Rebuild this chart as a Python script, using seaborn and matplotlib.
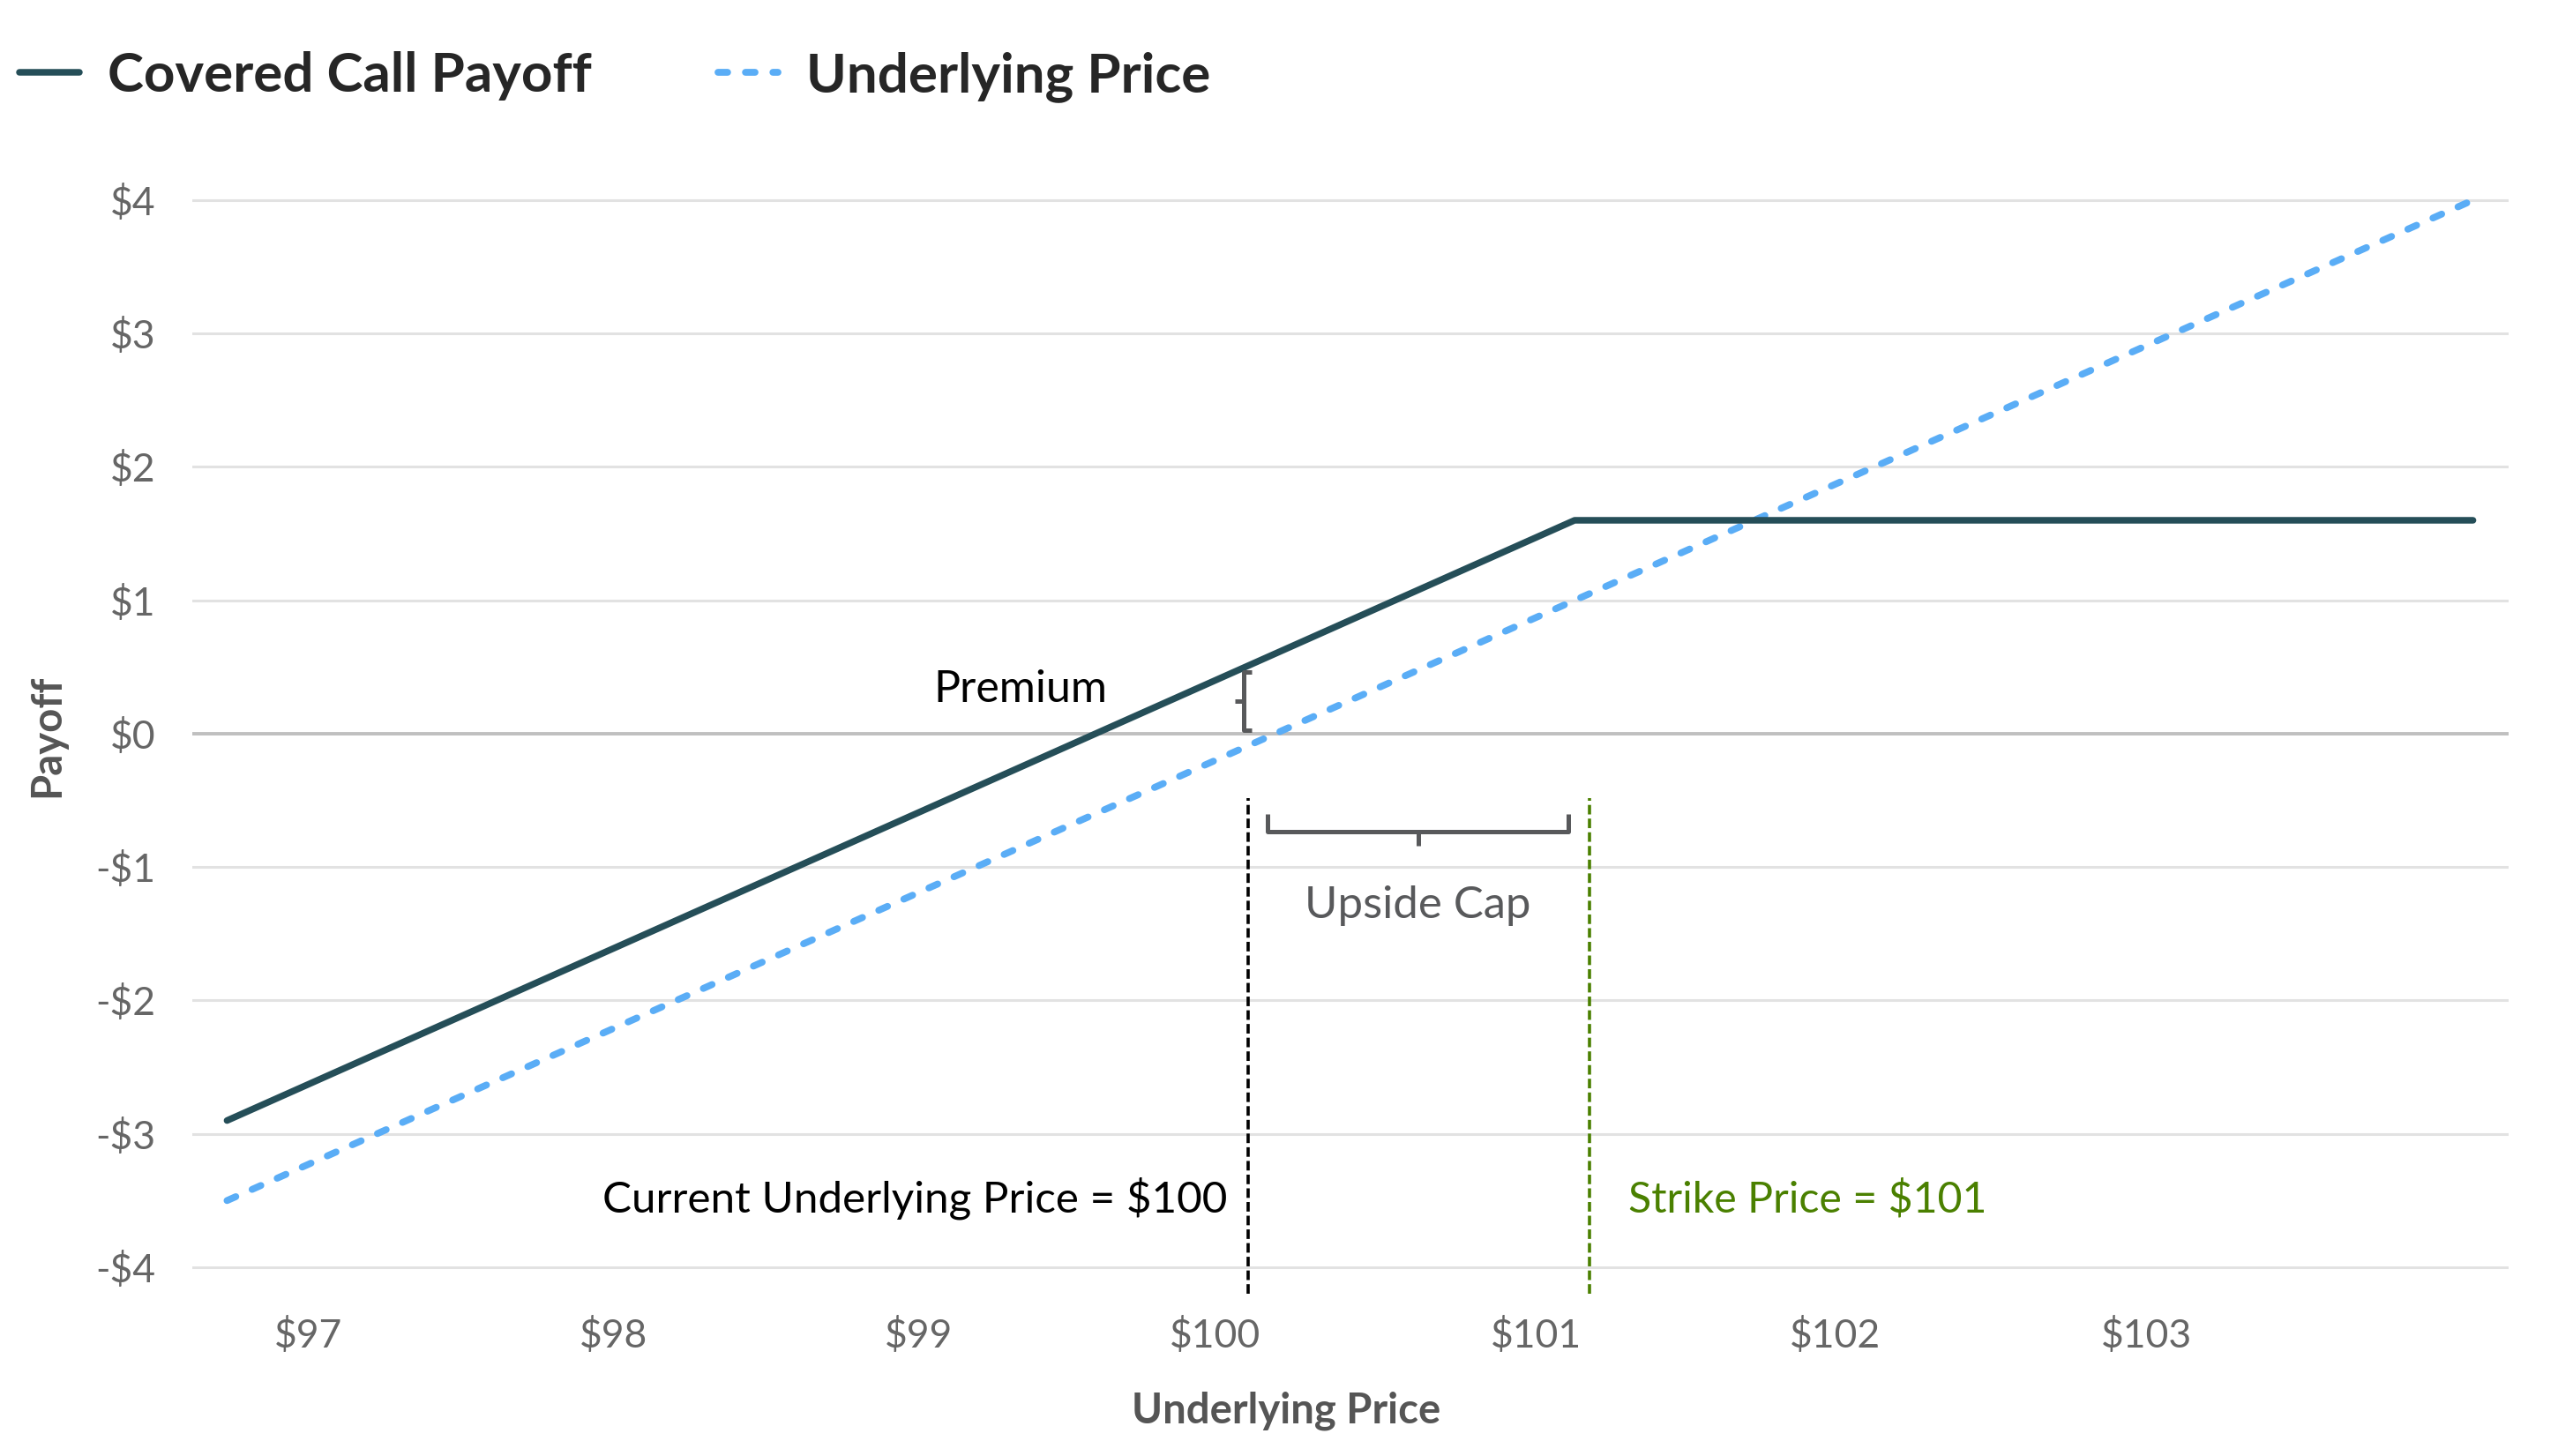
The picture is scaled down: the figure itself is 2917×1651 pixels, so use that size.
import matplotlib
matplotlib.use("Agg")
import matplotlib.pyplot as plt
import seaborn as sns
import pandas as pd

# ---------------- data ----------------
series_names = ["Covered Call Payoff", "Underlying Price"]
payoff_price = [96.5, 101.0, 104.0]
payoff_value = [-2.9, 1.6, 1.6]
underlying_price = [96.5, 104.0]
underlying_value = [-3.5, 4.0]

x_tick_pos = [96.77, 97.79, 98.81, 99.80, 100.87, 101.87, 102.91]
x_tick_labels = ["$97", "$98", "$99", "$100", "$101", "$102", "$103"]
y_ticks = [-4, -3, -2, -1, 0, 1, 2, 3, 4]
y_tick_labels = ["-$4", "-$3", "-$2", "-$1", "$0", "$1", "$2", "$3", "$4"]

current_price_x = 99.91
strike_price_x = 101.05
current_label = "Current Underlying Price = $100"
strike_label = "Strike Price = $101"
premium_label = "Premium"
cap_label = "Upside Cap"

# ---------------- style ----------------
sns.set_theme(style="white")
plt.rcParams["font.family"] = ["Lato", "DejaVu Sans"]

W, H, DPI = 2917, 1651, 200
fig = plt.figure(figsize=(W / DPI, H / DPI), dpi=DPI)
ax_left, ax_right = 218, 2844
ax_top_px, ax_bot_px = 181.6, 1474.8
ax = fig.add_axes([ax_left / W, 1 - ax_bot_px / H,
                   (ax_right - ax_left) / W, (ax_bot_px - ax_top_px) / H])

CC_COLOR = "#254E58"
UL_COLOR = "#5AADF6"
GREEN = "#4A8000"
BRACKET = "#58595B"
TICK_GREY = "#666666"
TITLE_GREY = "#555555"

df_cc = pd.DataFrame({"price": payoff_price, "payoff": payoff_value})
df_ul = pd.DataFrame({"price": underlying_price, "payoff": underlying_value})

sns.lineplot(data=df_ul, x="price", y="payoff", ax=ax, color=UL_COLOR,
             linewidth=2.8, linestyle=(0, (1.4, 2.6)), dash_capstyle="round",
             label=series_names[1], zorder=3)
sns.lineplot(data=df_cc, x="price", y="payoff", ax=ax, color=CC_COLOR,
             linewidth=2.7, solid_capstyle="round", label=series_names[0], zorder=4)

ax.set_xlim(96.384, 104.119)
ax.set_ylim(-4.25, 4.3)

ax.set_yticks(y_ticks, y_tick_labels)
ax.set_xticks(x_tick_pos, x_tick_labels)
ax.yaxis.grid(True, color="#E2E2E2", linewidth=1.1)
ax.xaxis.grid(False)
ax.axhline(0, color="#C0C0C0", linewidth=1.4, zorder=2)
for s in ax.spines.values():
    s.set_visible(False)
ax.tick_params(axis="both", length=0, labelsize=16, labelcolor=TICK_GREY)
ax.tick_params(axis="x", pad=7)
ax.tick_params(axis="y", pad=15)
ax.set_xlabel("")
ax.set_ylabel("")
if ax.get_legend() is not None:
    ax.get_legend().remove()

# vertical reference lines
ax.vlines(current_price_x, -4.2, -0.48, color="black", linewidth=1.3,
          linestyles=(0, (3, 1.3)), zorder=3)
ax.vlines(strike_price_x, -4.2, -0.48, color=GREEN, linewidth=1.3,
          linestyles=(0, (3, 1.3)), zorder=3)

ax.text(current_price_x - 0.07, -3.59, current_label, ha="right", va="baseline",
        fontsize=17.8, color="black")
ax.text(strike_price_x + 0.13, -3.59, strike_label, ha="left", va="baseline",
        fontsize=17.4, color=GREEN)

# premium bracket
px = 99.895
ax.plot([px + 0.027, px, px, px + 0.027], [0.463, 0.463, 0.026, 0.026],
        color=BRACKET, linewidth=1.8, solid_capstyle="butt", zorder=5)
ax.plot([px, px - 0.03], [0.245, 0.245], color=BRACKET, linewidth=1.8,
        solid_capstyle="butt", zorder=5)
ax.text(99.439, 0.238, premium_label, ha="right", va="baseline",
        fontsize=18, color="black")

# upside cap bracket
ax.plot([99.975, 99.975, 100.979, 100.979], [-0.6, -0.734, -0.734, -0.6],
        color=BRACKET, linewidth=1.8, solid_capstyle="butt", zorder=5)
ax.plot([100.477, 100.477], [-0.734, -0.84], color=BRACKET, linewidth=1.8,
        solid_capstyle="butt", zorder=5)
ax.text(100.477, -1.382, cap_label, ha="center", va="baseline",
        fontsize=18.3, color=BRACKET)

# axis titles
fig.text(0.5, 1 - 1613 / H, "Underlying Price", ha="center", va="baseline",
         fontsize=17, fontweight="bold", color=TITLE_GREY)
fig.text(53 / W, 1 - 834 / H, "Payoff", ha="center", va="center", rotation=90,
         fontsize=17, fontweight="bold", color=TITLE_GREY)

# legend
handles, labels = ax.get_legend_handles_labels()
order = [labels.index(n) for n in series_names]
fig.legend([handles[i] for i in order], [labels[i] for i in order],
           loc="center left", bbox_to_anchor=(22 / W, 1 - 87 / H), ncol=2,
           frameon=False, borderpad=0, borderaxespad=0, handlelength=1.1,
           handletextpad=0.52, columnspacing=2.3,
           prop={"weight": "bold", "size": 22.3})

fig.savefig("out.png", dpi=DPI, facecolor="white")
